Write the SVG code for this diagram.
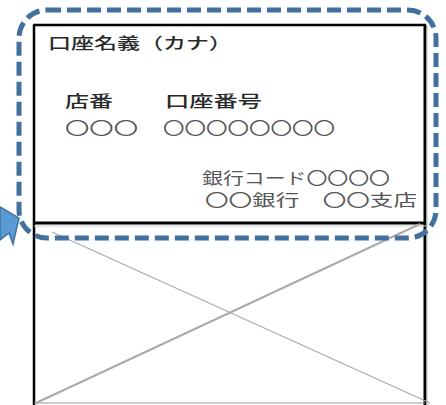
<svg xmlns="http://www.w3.org/2000/svg" width="446" height="405" viewBox="0 0 446 405">
<style>
text{font-family:"Noto Sans CJK JP","Noto Sans",sans-serif;font-size:16px;fill:#333}
.b{font-weight:500;fill:#2a2a2a}
.c{fill:#555}
</style>
<rect width="446" height="405" fill="#fff"/>
<g id="card">
<line x1="34" y1="25" x2="34" y2="405" stroke="#000" stroke-width="2.5"/>
<line x1="425" y1="25" x2="425" y2="405" stroke="#000" stroke-width="3"/>
<line x1="427" y1="27" x2="427" y2="405" stroke="#bbb" stroke-width="1"/>
<line x1="33" y1="25" x2="426" y2="25" stroke="#000" stroke-width="2.5"/>
<line x1="33" y1="223" x2="426" y2="223" stroke="#000" stroke-width="3"/>
<line x1="34" y1="226" x2="426" y2="226" stroke="#ccc" stroke-width="1"/>
<line x1="34" y1="403" x2="425" y2="403" stroke="#999" stroke-width="1.2"/>
</g>
<g id="texts">
<text class="b" x="48" y="49" textLength="184" lengthAdjust="spacingAndGlyphs">口座名義（カナ）</text>
<text class="b" x="65" y="107" textLength="48" lengthAdjust="spacingAndGlyphs">店番</text>
<text class="b" x="165" y="107" textLength="97" lengthAdjust="spacingAndGlyphs">口座番号</text>
<text class="c" x="65" y="134" textLength="73" lengthAdjust="spacingAndGlyphs">〇〇〇</text>
<text class="c" x="163" y="134" textLength="172" lengthAdjust="spacingAndGlyphs">〇〇〇〇〇〇〇〇</text>
<text class="c" x="202" y="184" textLength="188" lengthAdjust="spacingAndGlyphs">銀行コード〇〇〇〇</text>
<text class="c" x="205" y="206" textLength="212" lengthAdjust="spacingAndGlyphs">〇〇銀行　〇〇支店</text>
</g>
<g id="image-placeholder">
<line x1="36" y1="403" x2="420" y2="224" stroke="#aaa" stroke-width="2"/>
<line x1="52" y1="232" x2="430" y2="403" stroke="#aaa" stroke-width="1.2"/>
</g>
<g id="highlight">
<rect x="19" y="10" width="417" height="228" rx="28" ry="28" fill="none" stroke="#41719C" stroke-width="5" stroke-dasharray="14 6"/>
</g>
<g id="arrow">
<polygon points="0,207 19,218 13,244 9,233 0,240" fill="#5B9BD5" stroke="#41719C" stroke-width="1.5"/>
</g>
</svg>
